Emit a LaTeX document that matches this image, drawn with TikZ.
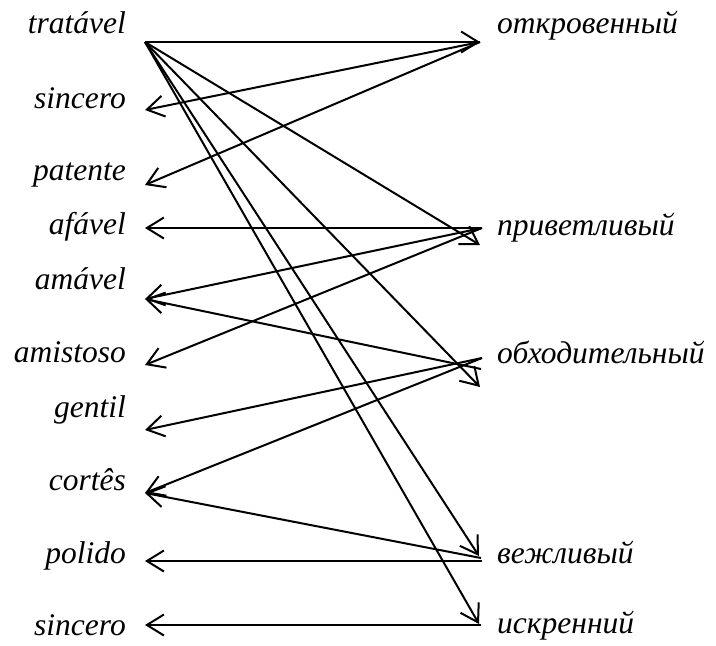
\documentclass[tikz,border=0pt]{standalone}
\usepackage{fontspec}
\newfontfamily\labfont{Liberation Serif}
\usetikzlibrary{arrows.meta}
\begin{document}
\begin{tikzpicture}[x=1pt,y=-1pt,
  lbl/.style={inner sep=0pt, font=\labfont\fontsize{31.5}{36}\selectfont\itshape},
  lft/.style={lbl, anchor=base east},
  rgt/.style={lbl, anchor=base west},
  link/.style={line width=2pt, -{Straight Barb[length=17pt,width=21pt]}}]
\useasboundingbox (0,0) rectangle (716,646);
% left labels
\node[lft] (l1) at (126,33) {tratável};
\node[lft] (l2) at (126,108) {sincero};
\node[lft] (l3) at (126,180) {patente};
\node[lft] (l4) at (126,234) {afável};
\node[lft] (l5) at (126,289) {amável};
\node[lft] (l6) at (126,362) {amistoso};
\node[lft] (l7) at (126,417) {gentil};
\node[lft] (l8) at (126,490) {cortês};
\node[lft] (l9) at (126,563) {polido};
\node[lft] (l10) at (126,635) {sincero};
% right labels
\node[rgt] (r1) at (497,33) {откровенный};
\node[rgt] (r2) at (497,235) {приветливый};
\node[rgt] (r3) at (497,363) {обходительный};
\node[rgt] (r4) at (497,563) {вежливый};
\node[rgt] (r5) at (497,633) {искренний};
% anchors
\coordinate (a1) at (145,42);
\coordinate (a2) at (145,110);
\coordinate (a3) at (145,185);
\coordinate (a4) at (145,228);
\coordinate (a5) at (145,299);
\coordinate (a6) at (145,365);
\coordinate (a7) at (145,430);
\coordinate (a8) at (145,493);
\coordinate (a9) at (145,561);
\coordinate (a10) at (145,625);
\coordinate (b1) at (480,42);
\coordinate (b2) at (482,228);
\coordinate (b2in) at (480,245);
\coordinate (b3) at (482,358);
\coordinate (b3in) at (480,387);
\coordinate (b3x) at (481,369);
\coordinate (b4) at (482,561);
\coordinate (b4x) at (481,558);
\coordinate (b4in) at (479,556);
\coordinate (b5) at (481,625);
\coordinate (b5in) at (479,624);
% connectors
\draw[link] (a1) -- (b1);
\draw[link] (a1) -- (b2in);
\draw[link] (a1) -- (b3in);
\draw[link] (a1) -- (b4in);
\draw[link] (a1) -- (b5in);
\draw[link] (b1) -- (a2);
\draw[link] (b1) -- (a3);
\draw[link] (b2) -- (a4);
\draw[link] (b2) -- (a5);
\draw[link] (b2) -- (a6);
\draw[link] (b3x) -- (a5);
\draw[link] (b3) -- (a7);
\draw[link] (b3) -- (a8);
\draw[link] (b4x) -- (a8);
\draw[link] (b4) -- (a9);
\draw[link] (b5) -- (a10);
\end{tikzpicture}
\end{document}
